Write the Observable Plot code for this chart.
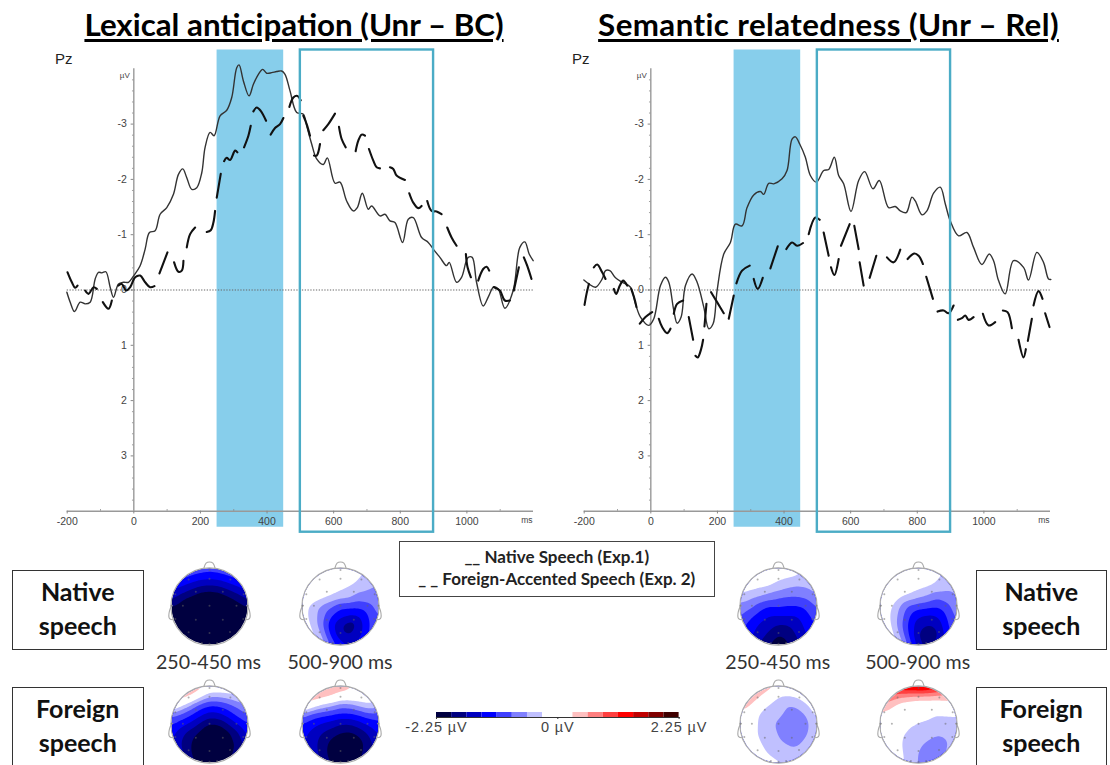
<!DOCTYPE html>
<html><head><meta charset="utf-8">
<script src="https://cdn.jsdelivr.net/npm/d3@7"></script>
<script src="https://cdn.jsdelivr.net/npm/@observablehq/plot@0.6"></script>
<style>
html,body{margin:0;padding:0;background:#fff;overflow:hidden}
#page{position:relative;width:1110px;height:765px;overflow:hidden;background:#fff}
#page>*{position:absolute}
.title{font:700 31.3px Lato,sans-serif;color:#000;text-decoration:underline;text-decoration-thickness:2.5px;text-underline-offset:3px;white-space:nowrap;transform:translateX(-50%)}
.pz{font:15px "Liberation Sans",sans-serif;color:#222}
.box{box-sizing:border-box;border:1.5px solid #333;background:#fff;text-align:center;font:700 25px/34px Lato,sans-serif;color:#111;padding-top:3px}
.time{font:19.6px Lato,sans-serif;color:#333;white-space:nowrap;transform:translateX(-50%)}
.legend{box-sizing:border-box;border:1.5px solid #444;background:#fff;text-align:center;font:700 17px/22px Lato,sans-serif;color:#222;padding-top:4px;white-space:nowrap}
svg{overflow:visible}
</style></head><body><div id="page"></div>
<script>
// ---------- ERP waveforms, Lexical anticipation (ms, µV) ----------
const lexSolidMs=[-201,-191,-178,-161,-146,-131,-116,-106,-96,-84,-71,-61,-46,-31,-16,0,19,34,47,64,79,99,119,134,147,159,174,189,204,214,229,241,259,279,294,309,316,329,346,359,374,387,399,414,429,444,454,469,489,509,519,534,549,569,581,604,619,639,659,671,686,704,714,739,754,769,784,807,824,839,864,884,899,919,939,947,969,984,997,1004,1016,1029,1049,1064,1081,1094,1114,1139,1159,1174,1187,1199];
const lexSolidUv=[.04,.22,.39,.22,.25,.22,-.2,-.32,-.31,-.33,-.05,.13,-.11,-.14,-.14,-.26,-.44,-.74,-1.04,-1.07,-1.37,-1.49,-1.73,-2.09,-2.19,-2.03,-1.82,-1.85,-2.12,-2.58,-2.85,-2.79,-3.15,-3.25,-3.48,-4.02,-4.07,-3.78,-3.51,-3.72,-3.9,-3.99,-3.92,-3.93,-3.95,-3.96,-3.9,-3.6,-3.21,-3.18,-2.97,-2.64,-2.37,-2.27,-2.39,-1.93,-1.95,-1.61,-1.43,-1.49,-1.75,-1.46,-1.52,-1.34,-1.37,-1.25,-1.22,-.86,-1.28,-1.31,-.95,-.86,-.74,-.59,-.44,-.5,-.14,-.23,-.5,-.59,-.59,-.14,.29,.13,-.06,-.02,.33,.01,-.77,-.87,-.65,-.53];
const lexDashMs=[-199,-186,-176,-169,null,-146,-136,-121,-111,null,-93,-76,-66,null,-46,-36,-23,-11,4,19,34,49,62,null,77,101,null,121,134,144,149,null,159,169,184,null,219,231,239,244,null,249,261,null,271,279,289,304,311,null,331,344,351,null,359,369,381,397,null,411,424,439,449,null,467,479,491,501,null,509,519,529,null,541,549,559,null,569,584,604,null,616,624,636,null,666,674,684,694,null,706,719,729,739,null,769,779,789,814,null,827,839,854,864,null,881,894,909,924,null,941,954,969,null,997,1002,1012,null,1034,1049,1059,1067,null,1081,1099,1114,1129,null,1141,1156,null,1171,1181,1194];
const lexDashUv=[-.32,-.14,-.04,-.08,null,.01,.07,-.05,-.02,null,.22,.34,.19,null,-.08,-.11,.01,-.05,-.23,-.26,-.14,-.05,-.07,null,-.3,-.68,null,-.5,-.33,-.35,-.53,null,-.77,-1.01,-1.13,null,-1.05,-1.08,-1.22,-1.43,null,-1.67,-2.1,null,-2.33,-2.39,-2.35,-2.52,-2.49,null,-2.58,-2.79,-2.97,null,-3.23,-3.3,-3.24,-3.06,null,-2.81,-2.93,-3,-3.11,null,-3.31,-3.48,-3.51,-3.43,null,-3.15,-3,-2.79,null,-2.43,-2.43,-2.64,null,-2.89,-3,-3.19,null,-2.95,-2.73,-2.58,null,-2.51,-2.7,-2.81,-2.79,null,-2.55,-2.34,-2.22,-2.2,null,-2.22,-2.19,-2.07,-1.99,null,-1.75,-1.58,-1.48,-1.52,null,-1.61,-1.43,-1.42,-1.37,null,-1.13,-.95,-.8,null,-.65,-.41,-.23,null,-.17,-.38,-.42,-.35,null,-.05,.01,.19,.19,null,.01,-.41,null,-.59,-.44,-.2];
// ---------- ERP waveforms, Semantic relatedness (ms, µV) ----------
const semSolidMs=[-201,-186,-166,-146,-136,-123,-106,-86,-61,-46,-31,-6,9,29,44,54,69,79,91,104,124,139,159,174,187,199,219,239,254,274,289,309,329,339,354,369,394,409,424,434,447,464,479,497,519,534,551,564,579,601,624,642,667,686,714,734,749,767,784,794,814,829,849,869,884,899,924,949,969,994,1016,1029,1044,1064,1089,1119,1134,1159,1179,1194,1201];
const semSolidUv=[-.18,-.11,-.05,-.2,-.35,-.35,-.22,-.14,-.05,.25,.49,.64,.52,-.08,-.23,-.14,.37,.6,.49,-.08,-.29,-.14,.31,.7,.61,.01,-.65,-.86,-1.19,-1.16,-1.49,-1.72,-1.78,-1.73,-1.93,-1.92,-2.01,-2.16,-2.73,-2.77,-2.64,-2.4,-2.07,-1.95,-2.16,-2.18,-2.4,-2.07,-1.92,-1.42,-1.98,-2.14,-1.83,-1.98,-1.49,-1.51,-1.43,-1.4,-1.68,-1.61,-1.36,-1.43,-1.75,-1.86,-1.56,-1.25,-.98,-1.04,-.77,-.46,-.65,-.53,-.17,.07,-.53,-.41,-.18,-.68,-.5,-.2,-.19];
const semDashMs=[-199,-193,-186,null,-171,-161,-146,-136,null,-111,-104,-93,-83,-71,null,-59,-49,-43,null,-33,-16,4,null,24,34,49,59,null,69,79,97,null,114,127,null,134,141,151,157,null,161,167,null,181,199,219,null,234,249,null,257,274,297,null,309,321,336,null,359,381,null,407,424,439,457,null,474,494,507,null,519,534,null,541,551,564,null,571,597,null,611,624,null,627,639,null,657,677,null,709,729,749,null,771,791,804,817,null,827,847,null,861,879,894,909,null,922,934,944,954,969,null,997,1014,1034,null,1057,1071,1084,null,1104,1119,1126,null,1132,1144,null,1149,1164,1176,null,1184,1197];
const semDashUv=[.27,.07,-.11,null,-.41,-.46,-.32,-.2,null,-.02,.07,-.08,-.17,-.08,null,-.02,.16,.31,null,.61,.49,.4,null,.52,.67,.78,.7,null,.43,.25,.19,null,.49,.9,null,1.19,1.22,1.07,.9,null,.66,.25,null,.04,.22,.42,null,.52,.1,null,-.12,-.35,-.44,null,-.2,-.02,-.22,null,-.39,-.79,null,-.74,-.86,-.8,-.85,null,-1.01,-1.31,-1.27,null,-1.04,-.62,null,-.41,-.27,-.56,null,-.8,-1.19,null,-1.16,-.74,null,-.5,-.08,null,-.22,-.62,null,-.59,-.5,-.73,null,-.56,-.66,-.62,-.47,null,-.24,.16,null,.39,.37,.42,.28,null,.54,.51,.46,.54,.49,null,.43,.64,.58,null,.37,.4,.69,null,.9,1.22,1.07,null,.92,.52,null,.28,.02,.16,null,.42,.67];
// ---------- Axes and analysis windows ----------
const xTicks=[-200,0,200,400,600,800,1000];
const xMinor=[-100,100,300,500,700,900,1100];
const yLabels=[-3,-2,-1,0,1,2,3];
const yMinor=[-3.8,-3.6,-3.4,-3.2,-2.8,-2.6,-2.4,-2.2,-1.8,-1.6,-1.4,-1.2,-.8,-.6,-.4,-.2,.2,.4,.6,.8,1.2,1.4,1.6,1.8,2.2,2.4,2.6,2.8,3.2,3.4,3.6,3.8];
const earlyWindow=[250,450], lateWindow=[500,900];
// ---------- Colour bar ----------
const colorEdges=[-1.96875,-1.6875,-1.40625,-1.125,-.84375,-.5625,-.28125,0,.28125,.5625,.84375,1.125,1.40625,1.6875,1.96875];
const colorSteps=["#000040","#000080","#0000c0","#0000ff","#4040ff","#8080ff","#c0c0ff","#ffffff","#ffffff","#ffc0c0","#ff8080","#ff4040","#ff0000","#c00000","#800000","#400000"];
const barEnds=[-2.25,...colorEdges,2.25];
const barTicks=[-2.25,0,2.25];
// ---------- Scalp maps: values (µV) on a 9×9 grid, nose-side row first ----------
const gridAxis=[-1,-.75,-.5,-.25,0,.25,.5,.75,1];
const lexNative250=[-.8,-.85,-.9,-.95,-1,-.95,-.9,-.85,-.8,-1,-1.05,-1.2,-1.32,-1.35,-1.32,-1.2,-1.05,-1,-1.3,-1.45,-1.6,-1.75,-1.8,-1.75,-1.6,-1.45,-1.3,-1.6,-1.8,-1.97,-2.15,-2.2,-2.15,-1.97,-1.8,-1.6,-1.9,-2.1,-2.4,-2.5,-2.6,-2.5,-2.4,-2.1,-1.9,-2.3,-2.6,-2.7,-2.8,-2.9,-2.8,-2.7,-2.6,-2.3,-2.6,-2.8,-3,-3,-3,-3,-3,-2.8,-2.6,-2.6,-2.8,-3,-3,-3,-3,-3,-2.8,-2.6,-2.6,-2.8,-3,-3,-3,-3,-3,-2.8,-2.6];
const lexNative500=[.1,.1,.1,.1,0,-.05,-.15,-.4,-.5,.1,.1,.05,0,0,-.1,-.28,-.45,-.55,.05,.05,0,-.1,-.22,-.32,-.45,-.55,-.6,0,-.05,-.2,-.32,-.45,-.5,-.7,-.68,-.6,-.1,-.4,-.6,-.8,-1.05,-1.05,-1.05,-.95,-.7,-.15,-.38,-.7,-1.1,-1.35,-1.45,-1.4,-1.1,-.8,-.1,-.3,-.75,-1.3,-1.65,-1.9,-1.55,-1.15,-.8,-.05,-.2,-.55,-1.2,-1.6,-1.7,-1.5,-1.1,-.7,0,0,-.35,-.9,-1.3,-1.4,-1.3,-.9,-.6];
const lexForeign250=[.6,.55,.6,.45,.1,.05,0,0,-.05,.5,.45,.3,-.15,-.5,-.5,-.4,-.3,-.2,.2,-.2,-.6,-.95,-1.12,-1.1,-.95,-.75,-.55,-.75,-.9,-1.1,-1.35,-1.55,-1.5,-1.3,-1.05,-.85,-1.1,-1.3,-1.5,-1.75,-2,-1.95,-1.7,-1.4,-1.15,-1.3,-1.6,-1.85,-2.05,-2.35,-2.3,-2.05,-1.75,-1.3,-1.35,-1.7,-1.95,-2.2,-2.4,-2.4,-2.1,-1.9,-1.5,-1.3,-1.6,-1.95,-2.2,-2.4,-2.4,-2.1,-1.8,-1.4,-1.2,-1.5,-1.85,-2.1,-2.3,-2.3,-2,-1.7,-1.3];
const lexForeign500=[.7,.7,.7,.6,.5,.35,.1,.05,0,.6,.55,.45,.3,.1,.05,0,0,-.05,.3,-.05,-.35,-.5,-.72,-.7,-.5,-.35,-.5,-.7,-.95,-1.05,-1.12,-1.2,-1.2,-1.1,-.95,-.95,-1.15,-1.3,-1.45,-1.55,-1.7,-1.7,-1.55,-1.35,-1.2,-1.3,-1.5,-1.7,-1.85,-2,-2.05,-1.9,-1.65,-1.35,-1.35,-1.55,-1.8,-2.05,-2.25,-2.3,-2.1,-1.8,-1.5,-1.3,-1.5,-1.8,-2.1,-2.3,-2.3,-2.05,-1.8,-1.5,-1.2,-1.4,-1.7,-2,-2.2,-2.2,-1.95,-1.7,-1.4];
const semNative250=[.05,.1,.1,.1,.1,0,-.2,-.3,-.4,.1,.1,.05,0,-.22,-.3,-.35,-.4,-.45,-.1,-.2,-.28,-.35,-.45,-.55,-.6,-.55,-.45,-.4,-.48,-.58,-.7,-.8,-.85,-.85,-.8,-.6,-.65,-.75,-1,-1.15,-1.1,-1.15,-1.15,-1.05,-.8,-.8,-1.05,-1.25,-1.4,-1.4,-1.4,-1.4,-1.2,-1,-1,-1.25,-1.45,-1.6,-1.72,-1.7,-1.55,-1.3,-1.05,-1.1,-1.35,-1.55,-1.75,-1.97,-1.85,-1.65,-1.4,-1.15,-1.2,-1.4,-1.7,-1.95,-2.2,-2,-1.75,-1.45,-1.2];
const semNative500=[.1,.1,.1,.1,.05,0,-.1,-.35,-.45,.1,.1,.05,.05,0,-.1,-.25,-.45,-.5,.05,.05,0,-.1,-.22,-.3,-.4,-.52,-.55,0,0,-.25,-.38,-.52,-.62,-.8,-.7,-.55,-.05,-.2,-.55,-.9,-1,-1.05,-1.1,-.95,-.65,-.05,-.25,-.65,-1.1,-1.38,-1.45,-1.4,-1.1,-.75,0,-.2,-.7,-1.2,-1.6,-1.7,-1.6,-1.2,-.8,0,-.1,-.55,-1.15,-1.7,-2,-1.7,-1.3,-.8,0,0,-.3,-.95,-1.55,-1.8,-1.6,-1.15,-.7];
const semForeign250=[.6,.6,.6,.45,.15,.05,0,0,0,.6,.6,.35,-.05,-.27,-.3,-.22,-.1,0,.6,.3,-.15,-.3,-.4,-.58,-.52,-.3,-.1,.05,-.1,-.3,-.42,-.52,-.65,-.68,-.55,-.2,-.05,-.12,-.32,-.48,-.62,-.7,-.75,-.65,-.3,-.05,-.15,-.32,-.45,-.58,-.72,-.75,-.6,-.28,0,-.1,-.25,-.4,-.5,-.58,-.65,-.42,-.2,0,-.05,-.15,-.32,-.42,-.47,-.42,-.2,-.1,0,0,-.05,-.15,-.25,-.25,-.2,-.1,0];
const semForeign500=[1.4,1.4,1.4,1.5,1.6,1.5,1.3,1.1,.9,.8,.75,.65,.6,.55,.55,.5,.45,.4,.55,.42,.15,.05,0,0,0,.1,.2,.2,.1,0,0,-.15,-.2,-.3,-.3,-.3,.1,0,-.05,-.25,-.32,-.35,-.35,-.32,-.3,.05,0,-.22,-.35,-.38,-.45,-.55,-.5,-.35,0,0,-.25,-.38,-.5,-.62,-.68,-.6,-.35,0,0,-.22,-.38,-.58,-.68,-.68,-.55,-.3,0,0,-.22,-.35,-.6,-.68,-.62,-.42,-.2];
// Electrode sites and head outline, in head units
const siteX=[0,-.55,.55,0,-.36,.35,-.9,.9,-.7,0,.71,-1,1,-.36,.35,-.9,.89,-.55,0,.54,-.2,.2,0];
const siteY=[.73,.71,.71,.96,.39,.39,.32,.32,.02,.02,.02,.02,.02,-.35,-.35,-.33,-.33,-.68,-.7,-.67,-.96,-.96,-.98];
const noseX=[-.15,-.09,0,.09,.15], noseY=[1,1.14,1.17,1.14,1];
const earLX=[-.98,-1.05,-1.05,-.95], earRX=[.98,1.05,1.05,.95], earY=[.03,-.1,-.32,-.35];
const texts={titleL:"Lexical anticipation (Unr – BC)",titleR:"Semantic relatedness (Unr – Rel)",pz:"Pz",early:"250-450 ms",late:"500-900 ms",leg1:"__ Native Speech (Exp.1)",leg2:"_ _ Foreign-Accented Speech (Exp. 2)"};

const page=document.getElementById("page");
function place(node,left,top){node.style.position="absolute";node.style.left=left+"px";node.style.top=top+"px";page.appendChild(node);return node;}
function html(cls,text,left,top,w,h){const d=document.createElement("div");d.className=cls;d.innerHTML=text;if(w)d.style.width=w+"px";if(h)d.style.height=h+"px";return place(d,left,top);}

function erp(solidX,solidY,dashX,dashY){
  const tickCol="#888", lab="#444";
  return Plot.plot({
    width:560,height:540,marginLeft:66.7,marginRight:27,marginTop:68.3,marginBottom:29.3,
    style:{background:"none",fontFamily:"'Liberation Sans',Arial,sans-serif",overflow:"visible"},
    x:{domain:[-200,1200],axis:null},y:{domain:[-4,4],reverse:true,axis:null},
    marks:[
      Plot.rect([earlyWindow],{x1:d=>d[0],x2:d=>d[1],y1:()=>-4.34,y2:()=>4.29,fill:"#87ceeb"}),
      Plot.ruleY([4],{stroke:"#999",strokeWidth:1.6}),
      Plot.ruleX([0],{y1:-4,y2:4,stroke:"#999",strokeWidth:1.4}),
      Plot.ruleY(yMinor,{x1:-4,x2:0,stroke:tickCol,strokeWidth:.8}),
      Plot.ruleY(yLabels,{x1:-8,x2:0,stroke:tickCol,strokeWidth:1}),
      Plot.ruleX(xMinor,{y1:4,y2:3.97,stroke:tickCol,strokeWidth:.8}),
      Plot.ruleX(xTicks,{y1:4,y2:4.05,stroke:tickCol,strokeWidth:1}),
      Plot.text(xTicks,{x:d=>d,y:()=>4.18,text:d=>String(d),fontSize:10.5,fill:lab}),
      Plot.text(yLabels,{x:()=>0,y:d=>d,text:d=>String(d),dx:-7,textAnchor:"end",fontSize:10.5,fill:lab}),
      Plot.text(["µV"],{x:()=>0,y:()=>-3.88,text:d=>d,dx:-4,textAnchor:"end",fontSize:8,fill:lab}),
      Plot.text(["ms"],{x:()=>1180,y:()=>4.16,text:d=>d,fontSize:8.5,fill:lab}),
      Plot.ruleY([0],{x1:-200,x2:1200,stroke:"#666",strokeWidth:1.1,strokeDasharray:"1.3,1.5"}),
      Plot.line(solidX,{x:solidX,y:solidY,stroke:"#333",strokeWidth:1.4,curve:"catmull-rom"}),
      Plot.line(dashX,{x:dashX,y:dashY,stroke:"#111",strokeWidth:2.1,curve:"catmull-rom"}),
      Plot.rect([lateWindow],{x1:d=>d[0],x2:d=>d[1],y1:()=>-4.34,y2:()=>4.38,fill:"none",stroke:"#4bacc6",strokeWidth:2.4})
    ]
  });
}

const colorScale={type:"threshold",domain:colorEdges,range:colorSteps};
let clipId=0;
function topo(values){
  const pts=[];
  gridAxis.slice().reverse().forEach((gy,r)=>gridAxis.forEach((gx,c)=>pts.push({x:gx,y:gy,v:values[r*9+c]})));
  const id="head"+(clipId++);
  const svg=Plot.plot({
    width:100,height:110,marginLeft:12,marginRight:12,marginTop:17,marginBottom:17,
    style:{background:"none",overflow:"visible"},
    x:{domain:[-1,1],axis:null},y:{domain:[-1,1],axis:null},color:colorScale,
    marks:[
      Plot.contour(pts,{x:"x",y:"y",value:"v",fill:"value",thresholds:[-10,...colorEdges],interpolate:"barycentric",pixelSize:1,blur:2.5,stroke:"none",
        render(i,s,v,d,c,next){const g=next(i,s,v,d,c);g.setAttribute("clip-path",`url(#${id})`);return g;}}),
      Plot.dot([0],{x:()=>0,y:()=>0,r:38.6,fill:"none",stroke:"#aaa",strokeWidth:1.1}),
      Plot.line(noseX,{x:noseX,y:noseY,stroke:"#aaa",strokeWidth:1.1,curve:"catmull-rom"}),
      Plot.line(earLX,{x:earLX,y:earY,stroke:"#aaa",strokeWidth:1.1,curve:"catmull-rom"}),
      Plot.line(earRX,{x:earRX,y:earY,stroke:"#aaa",strokeWidth:1.1,curve:"catmull-rom"}),
      Plot.dot(siteX,{x:siteX,y:siteY,r:1,fill:"#666",fillOpacity:.5})
    ]
  });
  const cp=d3.select(svg).append("defs").append("clipPath").attr("id",id);
  cp.append("circle").attr("cx",50).attr("cy",55).attr("r",38);
  return svg;
}

function bar(){
  const bins=colorSteps.map((c,i)=>({a:barEnds[i],b:barEnds[i+1],c:(barEnds[i]+barEnds[i+1])/2}));
  return Plot.plot({
    width:320,height:40,marginLeft:40,marginRight:37.4,marginTop:0,marginBottom:35,
    style:{background:"none",fontFamily:"'Liberation Sans',Arial,sans-serif",overflow:"visible",letterSpacing:".9px"},
    x:{domain:[-2.25,2.25],axis:null},color:colorScale,
    marks:[
      Plot.rect(bins,{x1:"a",x2:"b",fill:"c"}),
      Plot.frame({anchor:"bottom",stroke:"#333",strokeWidth:1.2}),
      Plot.axisX(barTicks,{tickSize:2,tickPadding:2,tickFormat:d=>`${d} µV`,fontSize:14.5,fill:"#444",stroke:"#333"})
    ]
  });
}

html("title",texts.titleL,294,5);
html("title",texts.titleR,828.5,5).style.letterSpacing=".4px";
place(erp(lexSolidMs,lexSolidUv,lexDashMs,lexDashUv),0,0);
place(erp(semSolidMs,semSolidUv,semDashMs,semDashUv),517.3,0);
html("pz",texts.pz,55,50);
html("pz",texts.pz,572,50);

html("box","Native<br>speech",12,570,131.5,79.5);
html("box","Foreign<br>speech",12,687,131.5,100);
html("box","Native<br>speech",975.5,570,131.5,79.5);
html("box","Foreign<br>speech",975.5,687,131.5,100);

const centres=[208.5,340,777.7,917.7];
[lexNative250,lexNative500,semNative250,semNative500].forEach((v,i)=>place(topo(v),centres[i]-50,606-55));
[lexForeign250,lexForeign500,semForeign250,semForeign500].forEach((v,i)=>place(topo(v),centres[i]-50,724-55));
centres.forEach((c,i)=>html("time",i%2?texts.late:texts.early,c,650));

html("legend",texts.leg1+"<br>"+texts.leg2,398.5,541,316.5,56);
place(bar(),395.7,711.7);
</script></body></html>
